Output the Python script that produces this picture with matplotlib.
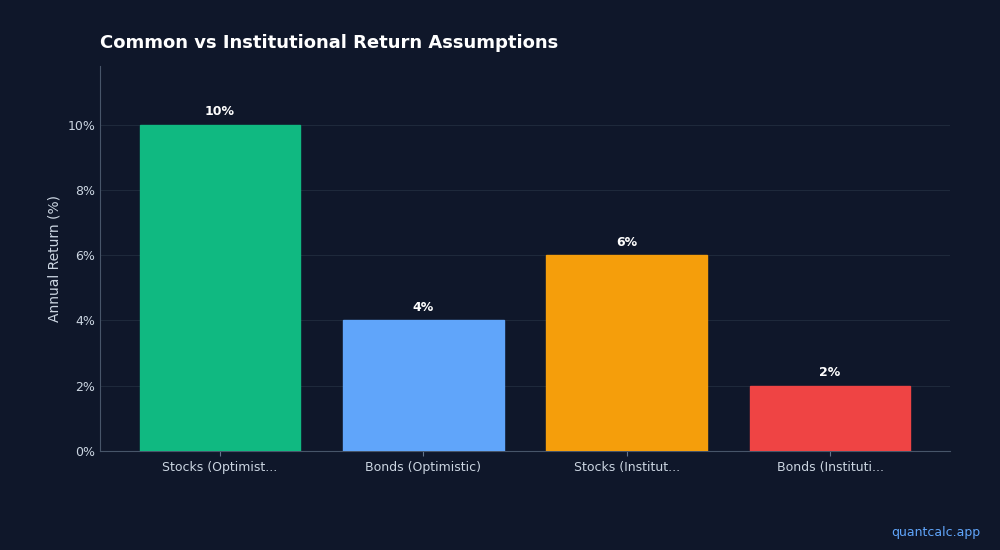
import matplotlib
matplotlib.use("Agg")
import matplotlib.pyplot as plt
from matplotlib.ticker import FuncFormatter

categories = ["Stocks (Optimist...", "Bonds (Optimistic)", "Stocks (Institut...", "Bonds (Instituti..."]
values = [10, 4, 6, 2]
colors = ["#10b981", "#60a5fa", "#f59e0b", "#ef4444"]

bg = "#0f172a"
fig = plt.figure(figsize=(10, 5.5), dpi=100, facecolor=bg)
ax = fig.add_axes([0.10, 0.18, 0.85, 0.70], facecolor=bg)
x = range(len(categories))
ax.bar(x, values, width=0.79, color=colors, edgecolor=colors, zorder=3)
for i, v in zip(x, values):
    ax.text(i, v + 0.2, f"{v}%", ha="center", va="bottom", color="white", fontsize=9, fontweight="bold")
ax.set_xlim(-0.59, 3.59)
ax.set_ylim(0, 11.8)
ax.set_yticks([0, 2, 4, 6, 8, 10])
ax.yaxis.set_major_formatter(FuncFormatter(lambda v, p: f"{v:.0f}%"))
ax.set_xticks(list(x))
ax.set_xticklabels(categories)
ax.tick_params(colors="#cbd5e1", labelsize=9)
ax.tick_params(axis="x", color="#64748b")
ax.tick_params(axis="y", length=0)
ax.grid(axis="y", color="#1e293b", linewidth=0.8, zorder=0)
for s in ["top", "right"]:
    ax.spines[s].set_visible(False)
for s in ["left", "bottom"]:
    ax.spines[s].set_color("#475569")
ax.set_ylabel("Annual Return (%)", color="#cbd5e1", fontsize=10)
fig.text(0.10, 0.921, "Common vs Institutional Return Assumptions", color="white", fontsize=13, fontweight="bold", ha="left", va="center")
fig.text(0.98, 0.032, "quantcalc.app", color="#60a5fa", fontsize=9, ha="right", va="center")
fig.savefig("out.png", facecolor=bg)
